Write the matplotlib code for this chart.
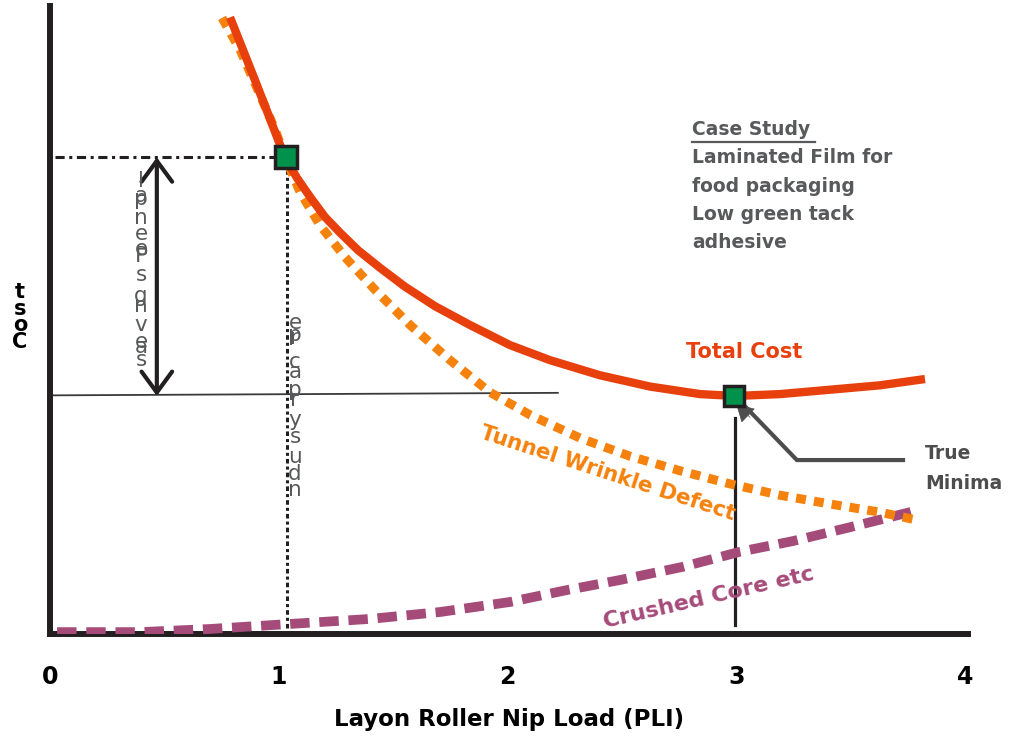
import matplotlib
matplotlib.use("Agg")
import matplotlib.pyplot as plt

# curve samples: nip load (PLI) vs relative cost
total_x = [0.787, 0.896, 1.027, 1.080, 1.137, 1.202, 1.268, 1.347, 1.443, 1.552,
           1.683, 1.836, 2.011, 2.186, 2.404, 2.623, 2.842, 2.995, 3.191, 3.410,
           3.628, 3.825]
total_y = [98.2, 88.2, 75.9, 72.6, 69.6, 66.4, 63.9, 61.1, 58.3, 55.3,
           52.2, 49.2, 46.0, 43.6, 41.2, 39.4, 38.2, 37.9, 38.2, 38.9,
           39.6, 40.6]

wrinkle_x = [0.752, 0.831, 0.909, 0.984, 1.036, 1.093, 1.180, 1.290, 1.421, 1.574,
             1.749, 1.923, 2.098, 2.317, 2.536, 2.754, 2.973, 3.191, 3.410, 3.628, 3.781]
wrinkle_y = [98.1, 93.0, 86.6, 80.3, 75.2, 70.4, 65.1, 60.0, 54.8, 49.2,
             43.6, 38.5, 34.9, 31.2, 28.3, 26.0, 23.9, 22.1, 20.7, 19.4, 18.2]

crush_x = [0.031, 0.393, 0.699, 1.049, 1.399, 1.705, 2.011, 2.260, 2.492, 2.767,
           3.016, 3.248, 3.497, 3.781]
crush_y = [0.3, 0.3, 0.8, 1.6, 2.4, 3.5, 5.1, 7.0, 8.6, 10.7, 13.1, 14.8, 17.0, 19.6]

# operating points: current setting and true minimum of total cost
current_pt = (1.03, 75.9)
minima_pt = (2.99, 37.9)

case_lines = ["Laminated Film for", "food packaging", "Low green tack", "adhesive"]
xticks = [0, 1, 2, 3, 4]

RED, ORANGE, PURPLE = "#e8400c", "#f5820d", "#a54b7a"
GREEN, INK, GREY = "#00924a", "#231f20", "#58595b"

fig = plt.figure(figsize=(10.13, 7.38), dpi=100)
ax = fig.add_axes([50 / 1013, 104 / 738, 918 / 1013, 628 / 738])
ax.set_xlim(0, 4.013)
ax.set_ylim(0, 100)

for s in ("top", "right"):
    ax.spines[s].set_visible(False)
for s in ("left", "bottom"):
    ax.spines[s].set_linewidth(4.3)
    ax.spines[s].set_color(INK)
ax.set_yticks([])
ax.set_xticks(xticks)
ax.set_xticklabels([str(t) for t in xticks])
ax.tick_params(axis="x", length=0, pad=22)
for lab in ax.get_xticklabels():
    lab.set_fontweight("bold")
    lab.set_fontsize(17)
ax.set_xlabel("Layon Roller Nip Load (PLI)", fontsize=16.5, fontweight="bold",
              labelpad=14)

# stacked y label
ax.text(-0.131, 50.5, "t\ns\no\nC", ha="center", va="center", fontsize=15,
        fontweight="bold", color="black", linespacing=0.78, clip_on=False)

# curves
ax.plot(crush_x, crush_y, color=PURPLE, lw=7, dashes=(2.0, 1.0), zorder=3)
ax.plot(wrinkle_x, wrinkle_y, color=ORANGE, lw=6.5, dashes=(1.1, 0.9), zorder=3)
ax.plot(total_x, total_y, color=RED, lw=6, solid_capstyle="butt",
        solid_joinstyle="round", zorder=4)

# reference lines
ax.plot([0.022, 0.984], [75.9, 75.9], color=INK, lw=2.2,
        dashes=(3, 1.5, 1, 1.5), zorder=2)
ax.plot([1.036, 1.036], [1.0, 74.0], color=INK, lw=2.2,
        dashes=(1.5, 1, 1, 1), zorder=2)
ax.plot([0.0, 2.22], [38.0, 38.4], color="#3a3a3a", lw=1.3, zorder=2)
ax.plot([2.993, 2.993], [1.4, 34.4], color=INK, lw=2.3, zorder=2)

# savings arrow
ax.annotate("", xy=(0.467, 75.9), xytext=(0.467, 37.9),
            arrowprops=dict(arrowstyle="<->, head_length=0.75, head_width=0.55",
                            mutation_scale=20, lw=3, color=INK,
                            shrinkA=0, shrinkB=0), zorder=5)

# markers
ax.plot(*current_pt, marker="s", ms=16, mfc=GREEN, mec=INK, mew=2.5, zorder=6)
ax.plot(*minima_pt, marker="s", ms=15, mfc=GREEN, mec=INK, mew=2.5, zorder=6)

# true minima pointer
ax.plot([3.729, 3.265, 3.037], [27.7, 27.7, 36.3], color="#4d4d4d", lw=3,
        solid_joinstyle="miter", zorder=5)
ax.annotate("", xy=(3.0, 36.6), xytext=(3.06, 34.5),
            arrowprops=dict(arrowstyle="-|>, head_length=0.7, head_width=0.4",
                            mutation_scale=16, lw=0.5, color="#4d4d4d",
                            shrinkA=0, shrinkB=0), zorder=5)

# vertical stacked labels
left_col = [("l", 181), ("a", 196), ("p", 199), ("n", 218), ("e", 234), ("e", 249),
            ("P", 256), ("s", 275), ("g", 296), ("n", 306), ("v", 325),
            ("e", 342), ("a", 347), ("s", 360)]
right_col = [("e", 323), ("p", 335), ("r", 338), ("c", 362), ("a", 372), ("p", 390),
             ("r", 400), ("y", 420), ("s", 437), ("u", 457), ("d", 474), ("n", 490)]
for ch, py in left_col:
    ax.text(0.398, (634 - py) / 6.28, ch, ha="center", va="center", fontsize=15.5,
            color=GREY, zorder=7)
for ch, py in right_col:
    ax.text(1.071, (634 - py) / 6.28, ch, ha="center", va="center", fontsize=15.5,
            color=GREY, zorder=7)

# curve labels
ax.text(2.780, 44.9, "Total Cost", ha="left", va="center", fontsize=15,
        fontweight="bold", color=RED)
ax.text(2.437, 25.6, "Tunnel Wrinkle Defect", ha="center", va="center",
        fontsize=15.5, color=ORANGE, fontweight="bold", rotation=-18,
        rotation_mode="anchor")
ax.text(2.880, 5.8, "Crushed Core etc", ha="center", va="center", fontsize=16,
        color=PURPLE, fontweight="bold", rotation=13, rotation_mode="anchor")

# case study box
ax.text(2.807, 80.3, "Case Study", ha="left", va="center", fontsize=13.5,
        fontweight="bold", color=GREY)
ax.plot([2.807, 3.345], [78.4, 78.4], color=GREY, lw=1.6)
for i, line in enumerate(case_lines):
    ax.text(2.807, 75.8 - i * 4.5, line, ha="left", va="center", fontsize=13.5,
            fontweight="bold", color=GREY)

ax.text(3.825, 28.7, "True", ha="left", va="center", fontsize=13.5,
        fontweight="bold", color="#4d4d4d", clip_on=False)
ax.text(3.825, 23.9, "Minima", ha="left", va="center", fontsize=13.5,
        fontweight="bold", color="#4d4d4d", clip_on=False)

fig.savefig("out.png", dpi=100)
